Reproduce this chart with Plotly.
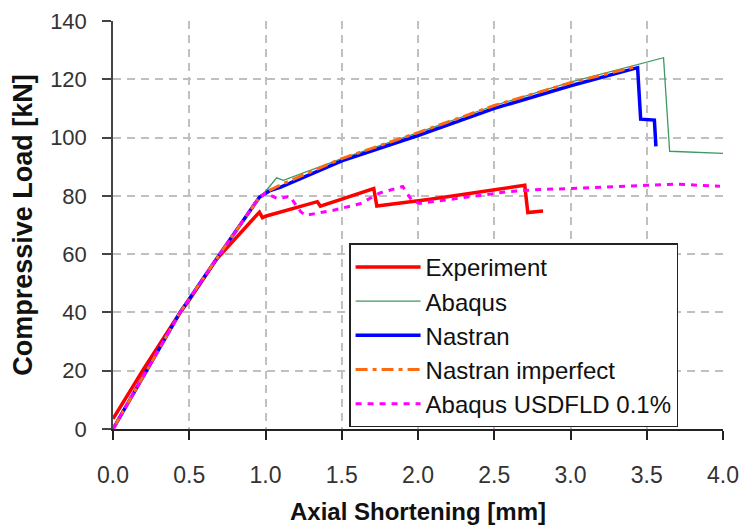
import plotly.graph_objects as go

# Experiment
exp_x = [0.0, 0.2, 0.44, 0.5, 0.68, 0.83, 0.96, 0.98, 1.0, 1.34, 1.36, 1.71, 1.73, 2.08, 2.70, 2.72, 2.82]
exp_y = [3.5, 20.5, 40.0, 44.3, 58.3, 66.8, 74.4, 72.5, 73.0, 78.0, 76.5, 82.5, 76.5, 78.8, 83.6, 74.3, 74.8]

# Abaqus
abq_x = [0.0, 0.22, 0.44, 0.70, 0.96, 1.0, 1.073, 1.117, 1.5, 2.0, 2.5, 3.0, 3.61, 3.65, 4.0]
abq_y = [0.0, 20.0, 40.0, 60.0, 79.5, 81.5, 86.2, 85.3, 92.8, 101.7, 111.0, 119.0, 127.4, 95.3, 94.6]

# Nastran
nas_x = [0.0, 0.22, 0.44, 0.70, 0.96, 1.03, 1.1, 1.5, 2.0, 2.5, 3.0, 3.44, 3.46, 3.55, 3.56]
nas_y = [0.0, 20.0, 40.0, 60.0, 79.5, 81.8, 83.0, 92.0, 100.7, 110.0, 117.8, 124.0, 106.3, 106.0, 97.0]

# Nastran imperfect
nimp_x = [0.0, 0.22, 0.44, 0.70, 0.96, 1.03, 1.1, 1.5, 2.0, 2.5, 3.0, 3.44]
nimp_y = [0.0, 20.0, 40.0, 60.0, 79.5, 82.0, 83.8, 92.8, 101.7, 111.0, 118.8, 124.5]

# Abaqus USDFLD 0.1%
usd_x = [0.0, 0.22, 0.44, 0.70, 0.96, 1.0, 1.08, 1.16, 1.23, 1.26, 1.44, 1.62, 1.75, 1.9, 1.96, 2.01, 2.3, 2.6, 2.8, 3.0, 3.5, 3.7, 3.98]
usd_y = [0.0, 20.0, 40.0, 60.0, 79.5, 81.0, 79.0, 79.8, 74.6, 73.3, 75.0, 77.3, 81.0, 83.2, 78.4, 77.4, 79.5, 81.5, 82.2, 82.5, 83.6, 84.0, 83.3]

x_ticks = [0.0, 0.5, 1.0, 1.5, 2.0, 2.5, 3.0, 3.5, 4.0]
x_tick_text = ["0.0", "0.5", "1.0", "1.5", "2.0", "2.5", "3.0", "3.5", "4.0"]
y_ticks = [0, 20, 40, 60, 80, 100, 120, 140]

FONT = "Liberation Sans, Arial, sans-serif"

fig = go.Figure()
fig.add_trace(go.Scatter(x=exp_x, y=exp_y, mode="lines", name="Experiment",
                         line=dict(color="#ff0000", width=3.5)))
fig.add_trace(go.Scatter(x=abq_x, y=abq_y, mode="lines", name="Abaqus",
                         line=dict(color="#3a9a60", width=1.3)))
fig.add_trace(go.Scatter(x=nas_x, y=nas_y, mode="lines", name="Nastran",
                         line=dict(color="#0000ff", width=3.5)))
fig.add_trace(go.Scatter(x=nimp_x, y=nimp_y, mode="lines", name="Nastran imperfect",
                         line=dict(color="#ff6a10", width=3, dash="12px,5px,4px,5px")))
fig.add_trace(go.Scatter(x=usd_x, y=usd_y, mode="lines", name="Abaqus USDFLD 0.1%",
                         line=dict(color="#ff00ff", width=3, dash="6px,6px")))

# page body has an 8px margin, so the figure is sized to fit inside the window
fig.update_layout(
    width=743, height=521,
    margin=dict(l=105, r=28, t=13, b=100),
    paper_bgcolor="white", plot_bgcolor="white",
    font=dict(family=FONT, color="#222222", size=24),
    legend=dict(x=0.387, y=0.455, xanchor="left", yanchor="top",
                bgcolor="white", bordercolor="#222222", borderwidth=1.5,
                font=dict(size=24, color="#111111", family=FONT),
                itemwidth=65),
    xaxis=dict(range=[0, 4.0], tickvals=x_ticks, ticktext=x_tick_text, automargin=False,
               showgrid=True, gridcolor="#c0c0c0", gridwidth=1.5, griddash="8px,6px",
               showline=True, linecolor="#222222", linewidth=1.5,
               ticks="outside", ticklen=9, tickcolor="#222222", tickwidth=1.5,
               tickfont=dict(size=23, color="#333333"), zeroline=False, ticklabelstandoff=16,
               ticklabeloverflow="allow",
               title=dict(text="<b>Axial Shortening [mm]</b>", font=dict(size=24, color="#111111"), standoff=16)),
    yaxis=dict(range=[0, 140], tickvals=y_ticks, automargin=False,
               showgrid=True, gridcolor="#c0c0c0", gridwidth=1.5, griddash="8px,6px",
               showline=True, linecolor="#444444", linewidth=1.5,
               ticks="outside", ticklen=9, tickcolor="#444444", tickwidth=1.5,
               tickfont=dict(size=22, color="#333333"), zeroline=False, ticklabelstandoff=11,
               ticklabeloverflow="allow",
               title=dict(text="<b>Compressive Load [kN]</b>", font=dict(size=27, color="#111111"), standoff=14)),
)

fig.write_html("out.html")
